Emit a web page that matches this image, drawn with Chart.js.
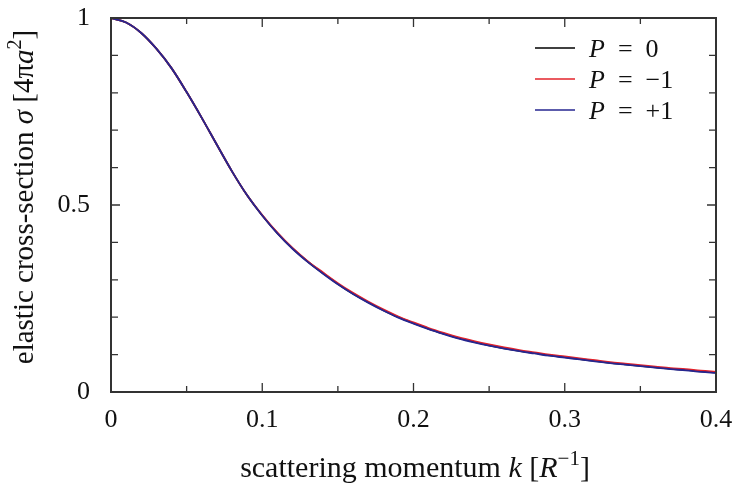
<!DOCTYPE html>
<html>
<head>
<meta charset="utf-8">
<script src="https://cdn.jsdelivr.net/npm/chart.js@4/dist/chart.umd.min.js"></script>
<style>
  html, body { margin: 0; padding: 0; background: #fff; }
  #wrap { width: 735px; height: 484px; }
</style>
</head>
<body>
<div id="wrap"><canvas id="chart"></canvas></div>
<script>
// scattering momentum k [1/R]
const momentum = [
    0.00, 0.01, 0.02, 0.03, 0.04, 0.05, 0.06, 0.07, 0.08, 0.09,
    0.10, 0.11, 0.12, 0.13, 0.14, 0.15, 0.16, 0.17, 0.18, 0.19,
    0.20, 0.21, 0.22, 0.23, 0.24, 0.25, 0.26, 0.27, 0.28, 0.29,
    0.30, 0.31, 0.32, 0.33, 0.34, 0.35, 0.36, 0.37, 0.38, 0.39,
    0.40
];
// elastic cross-section [4 pi a^2]
const sigmaP0 = [
    1.000, 0.988, 0.960, 0.918, 0.866, 0.802, 0.733, 0.661, 0.590, 0.526,
    0.472, 0.425, 0.384, 0.349, 0.318, 0.289, 0.263, 0.240, 0.219, 0.200,
    0.184, 0.169, 0.156, 0.144, 0.134, 0.125, 0.117, 0.110, 0.104, 0.098,
    0.093, 0.088, 0.083, 0.078, 0.074, 0.070, 0.066, 0.062, 0.059, 0.055,
    0.052
];
const sigmaPminus = [
    1.000, 0.988, 0.960, 0.918, 0.866, 0.802, 0.733, 0.661, 0.590, 0.526,
    0.473, 0.426, 0.385, 0.350, 0.320, 0.291, 0.265, 0.242, 0.221, 0.202,
    0.186, 0.171, 0.158, 0.146, 0.136, 0.127, 0.119, 0.112, 0.106, 0.100,
    0.095, 0.090, 0.085, 0.080, 0.076, 0.072, 0.068, 0.064, 0.061, 0.057,
    0.054
];
const sigmaPplus = [
    1.000, 0.988, 0.960, 0.918, 0.866, 0.802, 0.733, 0.661, 0.590, 0.526,
    0.472, 0.424, 0.383, 0.348, 0.317, 0.288, 0.262, 0.239, 0.218, 0.199,
    0.183, 0.168, 0.155, 0.143, 0.133, 0.124, 0.116, 0.109, 0.103, 0.097,
    0.092, 0.087, 0.082, 0.077, 0.073, 0.069, 0.065, 0.061, 0.058, 0.054,
    0.051
];
const seriesLabels = ['P = 0', 'P = \u22121', 'P = +1'];

const xTicks = [0, 0.1, 0.2, 0.3, 0.4];
const xMinorTicks = [0.05, 0.15, 0.25, 0.35];
const yTicks = [0, 0.5, 1];
const yMinorTicks = [0.1, 0.2, 0.3, 0.4, 0.6, 0.7, 0.8, 0.9];

const SERIF = '"Liberation Serif", "DejaVu Serif", serif';
const FRAME = '#333333';

function points(ys) {
    return momentum.map((k, i) => ({ x: k, y: ys[i] }));
}

// parts: [text, kind] with kind r = roman, i = italic, s = superscript
function fontFor(kind, size) {
    if (kind == 'i') return `italic ${size}px ${SERIF}`;
    if (kind == 's') return `${Math.round(size * 0.7)}px ${SERIF}`;
    return `${size}px ${SERIF}`;
}
function drawMath(ctx, parts, x, y, size, align) {
    ctx.save();
    ctx.textBaseline = 'alphabetic';
    ctx.textAlign = 'left';
    let total = 0;
    const widths = parts.map(([t, k]) => {
        ctx.font = fontFor(k, size);
        const w = ctx.measureText(t).width;
        total += w;
        return w;
    });
    let cx = align == 'center' ? x - total / 2 : x;
    parts.forEach(([t, k], i) => {
        ctx.font = fontFor(k, size);
        ctx.fillText(t, cx, k == 's' ? y - size * 0.4 : y);
        cx += widths[i];
    });
    ctx.restore();
}

const framePlugin = {
    id: 'frame',
    afterDraw(chart) {
        const { ctx, chartArea: a, scales: { x, y } } = chart;
        ctx.save();
        ctx.strokeStyle = FRAME;
        ctx.lineWidth = 1.3;
        ctx.beginPath();
        const tick = (v, len) => {
            const px = x.getPixelForValue(v);
            ctx.moveTo(px, a.bottom); ctx.lineTo(px, a.bottom - len);
            ctx.moveTo(px, a.top); ctx.lineTo(px, a.top + len);
        };
        const ytick = (v, len) => {
            const py = y.getPixelForValue(v);
            ctx.moveTo(a.left, py); ctx.lineTo(a.left + len, py);
            ctx.moveTo(a.right, py); ctx.lineTo(a.right - len, py);
        };
        xTicks.forEach(v => tick(v, 9));
        xMinorTicks.forEach(v => tick(v, 6));
        yTicks.forEach(v => ytick(v, 9));
        yMinorTicks.forEach(v => ytick(v, 7));
        ctx.stroke();
        ctx.lineWidth = 2;
        ctx.strokeRect(a.left, a.top, a.right - a.left, a.bottom - a.top);
        ctx.restore();

        // axis titles
        ctx.fillStyle = '#111';
        drawMath(ctx, [
            ['scattering momentum ', 'r'], ['k', 'i'], [' [', 'r'],
            ['R', 'i'], ['\u22121', 's'], [']', 'r']
        ], 415, 477, 30, 'center');
        ctx.save();
        ctx.translate(33, 197);
        ctx.rotate(-Math.PI / 2);
        drawMath(ctx, [
            ['elastic cross-section ', 'r'], ['\u03c3', 'i'], [' [4\u03c0', 'r'],
            ['a', 'i'], ['2', 's'], [']', 'r']
        ], 0, 0, 29, 'center');
        ctx.restore();

        // legend
        const lx = 535, ly = 48, gap = 31;
        chart.data.datasets.forEach((ds, i) => {
            const yy = ly + i * gap;
            ctx.save();
            ctx.strokeStyle = ds.borderColor;
            ctx.lineWidth = 1.6;
            ctx.beginPath();
            ctx.moveTo(lx, yy); ctx.lineTo(lx + 40, yy);
            ctx.stroke();
            ctx.restore();
            const [p, ...rest] = ds.label.split(' ');
            ctx.fillStyle = '#111';
            drawMath(ctx, [[p, 'i'], ['\u2002' + rest.join('\u2002'), 'r']], lx + 54, yy + 9, 26, 'left');
        });
    }
};

new Chart(document.getElementById('chart'), {
    type: 'line',
    data: {
        datasets: [
            { label: seriesLabels[0], data: points(sigmaP0), borderColor: '#000000', order: 3 },
            { label: seriesLabels[1], data: points(sigmaPminus), borderColor: '#e3232b', order: 2 },
            { label: seriesLabels[2], data: points(sigmaPplus), borderColor: '#262690', order: 1 },
        ],
    },
    options: {
        responsive: true,
        maintainAspectRatio: false,
        animation: false,
        devicePixelRatio: 1,
        layout: { padding: { left: 0, right: 19, top: 18, bottom: 0 } },
        elements: {
            line: { borderWidth: 1.8, cubicInterpolationMode: 'monotone', fill: false },
            point: { radius: 0 },
        },
        plugins: {
            legend: { display: false },
            tooltip: { enabled: false },
        },
        scales: {
            x: {
                type: 'linear',
                min: 0,
                max: 0.4,
                grid: { display: false, drawTicks: false },
                border: { display: false },
                afterBuildTicks: s => { s.ticks = xTicks.map(v => ({ value: v })); },
                afterFit: s => {
                    s.height = 92;
                    s.paddingLeft = 0;
                    s.paddingRight = 0;
                },
                ticks: {
                    font: { family: SERIF, size: 26 },
                    color: '#111',
                    padding: 13,
                    maxRotation: 0,
                    callback: v => String(v),
                },
            },
            y: {
                min: 0,
                max: 1,
                grid: { display: false, drawTicks: false },
                border: { display: false },
                afterBuildTicks: s => { s.ticks = yTicks.map(v => ({ value: v })); },
                afterFit: s => {
                    s.width = 111;
                    s.paddingTop = 0;
                    s.paddingBottom = 0;
                },
                ticks: {
                    font: { family: SERIF, size: 26 },
                    color: '#111',
                    padding: 21,
                    callback: v => String(v),
                },
            },
        },
    },
    plugins: [framePlugin],
});
</script>
</body>
</html>
